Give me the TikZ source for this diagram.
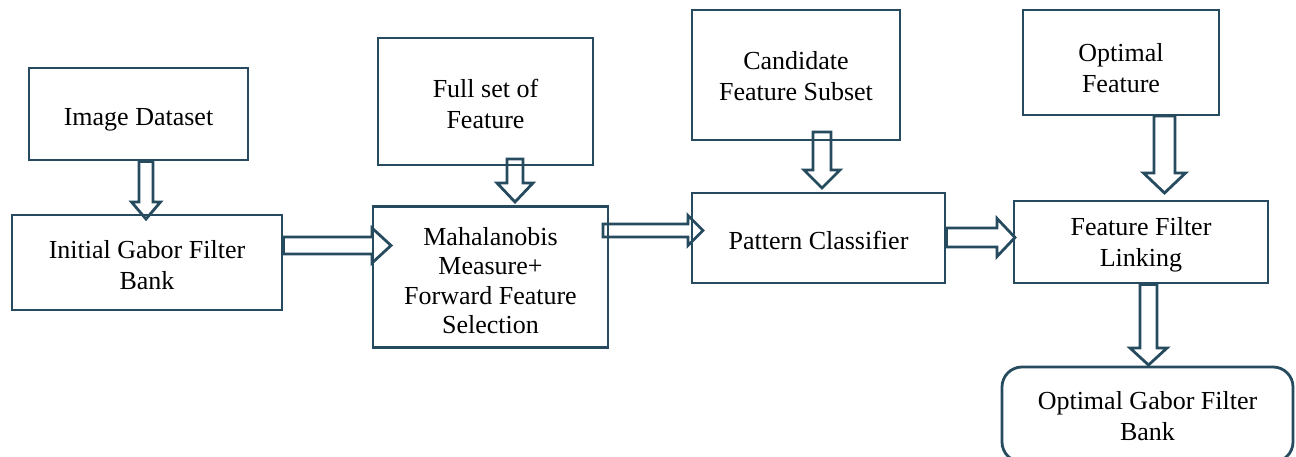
\documentclass[tikz,border=0pt]{standalone}
\usepackage{fontspec}
\setmainfont{Liberation Serif}
\usetikzlibrary{calc}
\definecolor{edge}{HTML}{264A5E}
\tikzset{
  box/.style={draw=edge, line width=2.8pt, fill=none, inner sep=0pt},
  txt/.style={align=center, inner sep=0pt, font=\fontsize{26}{31}\selectfont, text=black},
  blk/.style={draw=edge, line width=2.8pt, line join=miter}
}
\newcommand{\vblk}[5]{\draw[blk] let \p1=(#1), \p2=(#2) in
  (\x1-#3pt,\y1) -- (\x1-#3pt,\y2+#5pt) -- (\x1-#4pt,\y2+#5pt) -- (\x2,\y2) --
  (\x1+#4pt,\y2+#5pt) -- (\x1+#3pt,\y2+#5pt) -- (\x1+#3pt,\y1) -- cycle;}
\newcommand{\hblk}[5]{\draw[blk] let \p1=(#1), \p2=(#2) in
  (\x1,\y1-#3pt) -- (\x2-#5pt,\y1-#3pt) -- (\x2-#5pt,\y1-#4pt) -- (\x2,\y2) --
  (\x2-#5pt,\y1+#4pt) -- (\x2-#5pt,\y1+#3pt) -- (\x1,\y1+#3pt) -- cycle;}
\begin{document}
\begin{tikzpicture}[x=1pt,y=-1pt]
\useasboundingbox (0,0) rectangle (1296,457);
% boxes
\node[box, minimum width=219pt, minimum height=92pt] (img) at (138.5,114) {};
\node[box, minimum width=270pt, minimum height=95pt] (gab) at (147,262.5) {};
\node[box, minimum width=215pt, minimum height=127pt] (full) at (485.5,101.5) {};
\node[box, minimum width=235pt, minimum height=141pt] (mah) at (490.5,277) {};
\node[box, minimum width=208pt, minimum height=130pt] (cand) at (796,75) {};
\node[box, minimum width=253pt, minimum height=90pt] (pat) at (818.5,238) {};
\node[box, minimum width=196pt, minimum height=105pt] (opt) at (1121,62.5) {};
\node[box, minimum width=254pt, minimum height=82pt] (ffl) at (1141,242) {};
\node[box, rounded corners=20pt, minimum width=291pt, minimum height=95pt] (ogb) at (1147.5,414.5) {};
% texts
\node[txt] (imgt) at ($(img)+(0,6)$) {Image Dataset};
\node[txt] (gabt) at ($(gab)+(0,3)$) {Initial Gabor Filter\\Bank};
\node[txt] (fullt) at ($(full)+(0,2)$) {Full set of\\Feature};
\node[txt, font=\fontsize{26}{29.4}\selectfont] (maht) at ($(mah)+(0,3.5)$) {Mahalanobis\\Measure+\\Forward Feature\\Selection};
\node[txt] (candt) at ($(cand)+(0,1.5)$) {Candidate\\Feature Subset};
\node[txt] (patt) at ($(pat)+(0,2)$) {Pattern Classifier};
\node[txt] (optt) at ($(opt)+(0,5.5)$) {Optimal\\Feature};
\node[txt] (fflt) at ($(ffl)+(0,3)$) {Feature Filter\\Linking};
\node[txt] (ogbt) at ($(ogb)+(0,2)$) {Optimal Gabor Filter\\Bank};
% connector end points
\coordinate (a1s) at (img.south -| 146,0);
\coordinate (a1t) at (146,219);
\coordinate (a2s) at (gab.east |- 0,245.5);
\coordinate (a2t) at (391,245.5);
\coordinate (a3s) at (515,159);
\coordinate (a3t) at (515,202);
\coordinate (a4s) at (603,230.5);
\coordinate (a4t) at (703,230.5);
\coordinate (a5s) at (822,132);
\coordinate (a5t) at (822,188);
\coordinate (a6s) at (pat.east |- 0,237.5);
\coordinate (a6t) at (1015,237.5);
\coordinate (a7s) at (1164.5,116);
\coordinate (a7t) at (1164.5,193);
\coordinate (a8s) at (ffl.south -| 1148.5,0);
\coordinate (a8t) at (1148.5,365);
% block arrows
\vblk{a1s}{a1t}{7}{14.5}{17}
\hblk{a2s}{a2t}{8.5}{17.5}{19}
\vblk{a3s}{a3t}{8}{18}{19}
\hblk{a4s}{a4t}{6.5}{15}{15}
\vblk{a5s}{a5t}{9}{18}{18}
\hblk{a6s}{a6t}{9.5}{19}{18}
\vblk{a7s}{a7t}{10.5}{21}{20}
\vblk{a8s}{a8t}{8.5}{18.5}{17}
\end{tikzpicture}
\end{document}
